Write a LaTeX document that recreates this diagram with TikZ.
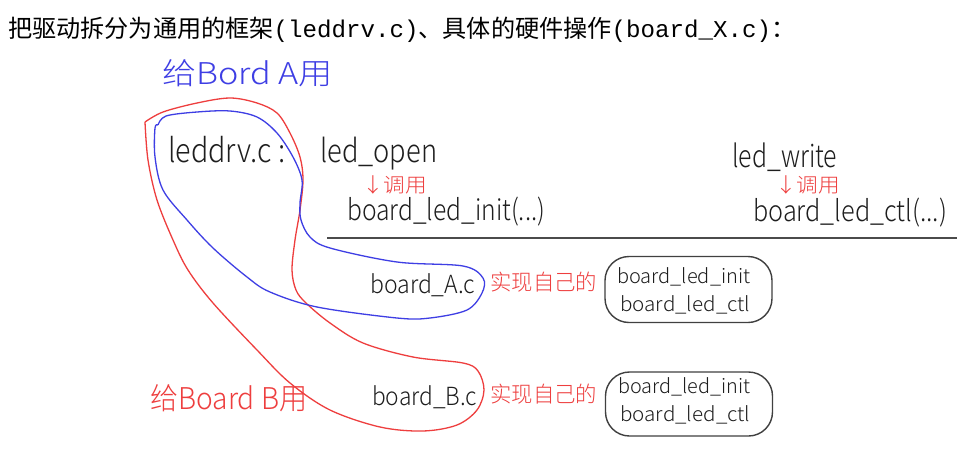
\documentclass[tikz,border=0pt]{standalone}
\usepackage{fontspec}
\usepackage{graphicx}
\newfontfamily\cjk{Noto Sans CJK SC}
\newfontfamily\handf{Noto Sans CJK SC Light}
\newfontfamily\monof{Liberation Mono}
\definecolor{penred}{RGB}{238,62,62}
\definecolor{penblue}{RGB}{62,62,228}
\definecolor{ink}{RGB}{30,30,30}
\newcommand\hw[2]{\resizebox{#1pt}{\height}{#2}}
\tikzset{
  hand/.style={inner sep=0pt, anchor=base west, text=ink, font=\handf\fontsize{#1}{#1}\selectfont},
  redhand/.style={hand=#1, text=penred},
  bluehand/.style={hand=#1, text=penblue},
  loop/.style={line width=1.3pt, line join=round},
  implbox/.style={draw=ink!85, line width=1.4pt, rounded corners=24pt, minimum width=167pt, minimum height=66pt, inner sep=0pt},
}
\begin{document}
\begin{tikzpicture}[x=1pt,y=-1pt]
\useasboundingbox[fill=white] (0,0) rectangle (980,453);
% title
\node[inner sep=0pt, anchor=base west, text=black] (title) at (8,37)
  {\hw{787}{\fontsize{24.2}{24.2}\selectfont{\cjk 把驱动拆分为通用的框架}{\monof (leddrv.c)}{\cjk 、具体的硬件操作}{\monof (board\_X.c)}{\cjk ：}}};
% loops
\draw[loop, penred] plot[smooth, tension=0.55] coordinates {
 (145,122) (163,112) (197,103) (230,98) (257,103) (277,113) (290,133) (300,157) (303,180) (300,210) (295,240) (292,270) (296,290) (306,303) (330,323) (363,343) (413,357) (463,363) (478,371) (484,390) (477,410) (457,425) (423,431) (380,427) (330,410) (290,383) (257,350) (213,303) (188,270) (173,240) (157,200) (148,160) (145,122)};
\draw[loop, penblue] plot[smooth, tension=0.55] coordinates {
 (158,125) (166,116) (197,112) (230,111) (257,117) (277,133) (293,157) (302,180) (300,203) (301,220) (310,237) (330,248) (397,262) (463,266) (483,278) (482,293) (467,310) (430,318) (397,318) (317,307) (270,292) (247,277) (213,248) (187,220) (163,190) (155,157) (155,128) (158,125)};
% labels
\node[bluehand=30] (forA) at (162,84) {\hw{171}{给Bord A用}};
\node[redhand=30] (forB) at (150,409) {\hw{157}{给Board B用}};
\node[hand=33] (leddrv) at (168,162) {\hw{117}{leddrv.c :}};
\node[hand=32] (open) at (320,162) {\hw{117}{led\_open}};
\node[redhand=20] (callA) at (362,192) {\hw{65}{↓调用}};
\node[hand=29] (init) at (347,220) {\hw{198}{board\_led\_init(...)}};
\node[hand=31] (write) at (732,167) {\hw{105}{led\_write}};
\node[redhand=20] (callB) at (775,192) {\hw{65}{↓调用}};
\node[hand=29] (ctl) at (753,221) {\hw{194}{board\_led\_ctl(...)}};
\coordinate (lineL) at (327,238);
\coordinate (lineR) at (957,238);
\draw[ink!80, line width=1.5pt] (lineL) -- (lineR);
% board A
\node[hand=25] (bA) at (370,293) {\hw{105}{board\_A.c}};
\node[redhand=22] (implA) at (490,290) {\hw{107}{实现自己的}};
\node[implbox] (boxA) at (688.5,289.5) {};
\node[hand=20] (boxAi) at (617,283) {\hw{133}{board\_led\_init}};
\node[hand=20] (boxAc) at (620,311) {\hw{130}{board\_led\_ctl}};
% board B
\node[hand=25] (bB) at (372,405) {\hw{105}{board\_B.c}};
\node[redhand=22] (implB) at (490,402) {\hw{107}{实现自己的}};
\node[implbox, minimum height=64pt] (boxB) at (689,404) {};
\node[hand=20] (boxBi) at (618,393) {\hw{132}{board\_led\_init}};
\node[hand=20] (boxBc) at (620,421) {\hw{130}{board\_led\_ctl}};
\end{tikzpicture}
\end{document}
